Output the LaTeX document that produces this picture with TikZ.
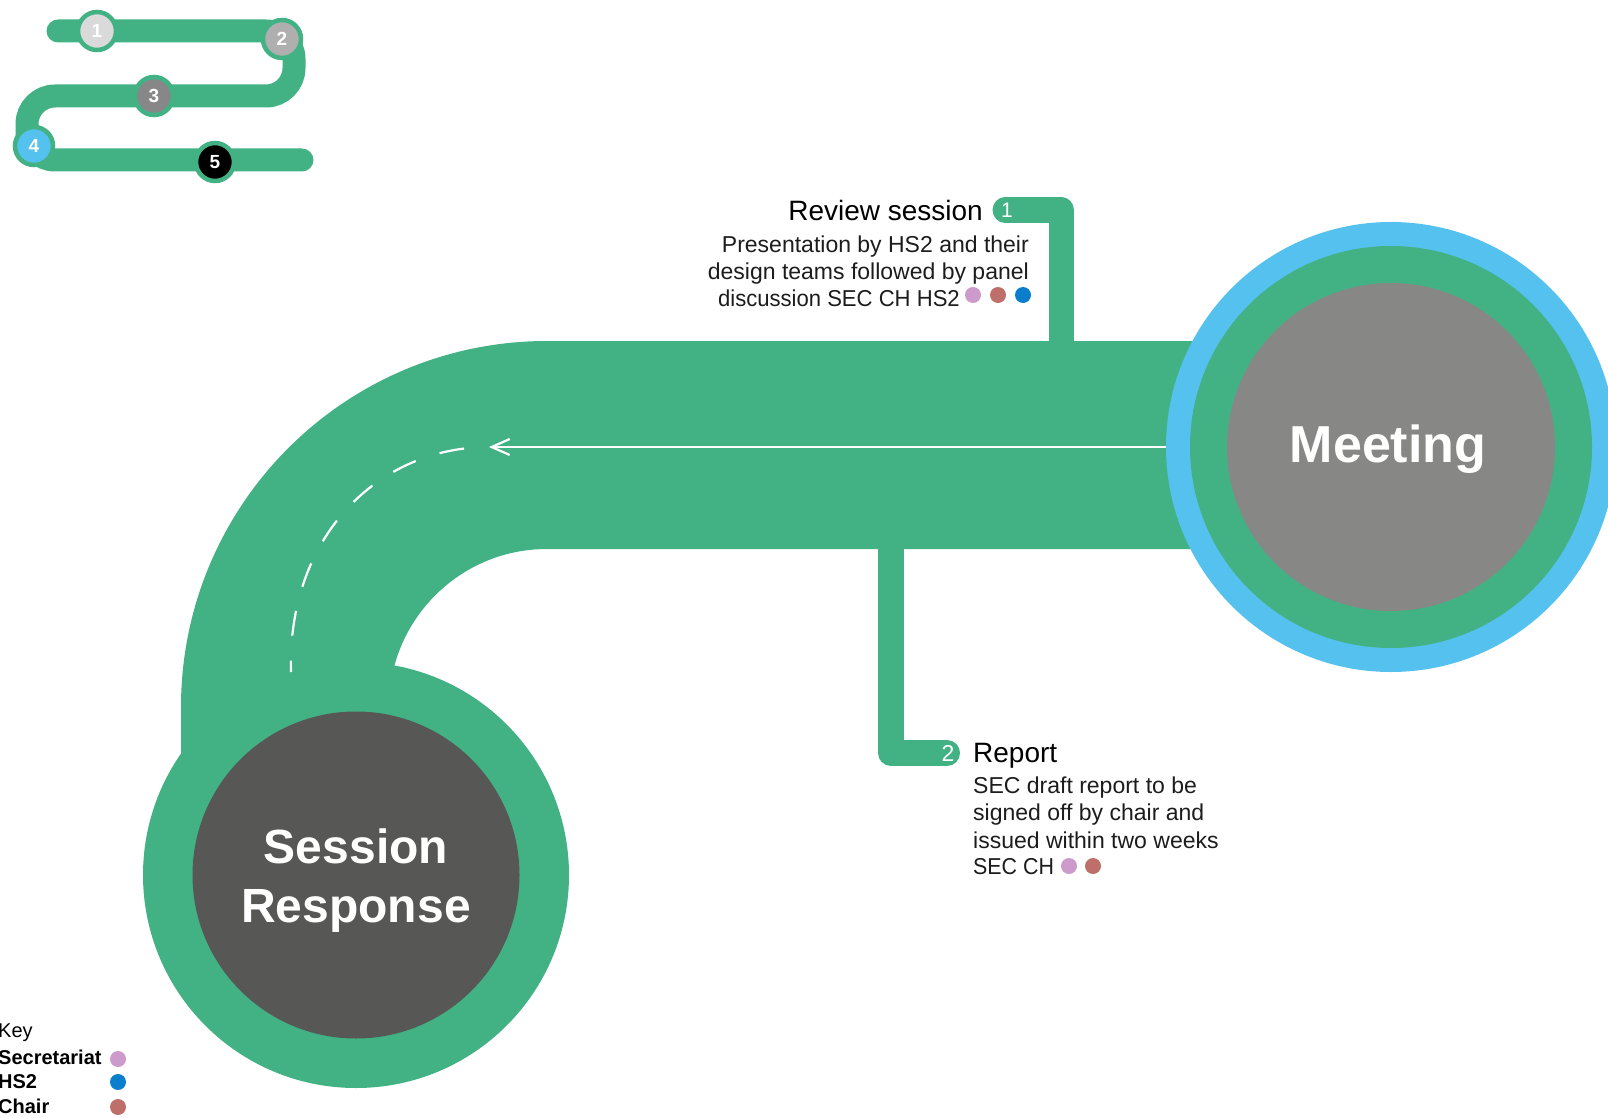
\documentclass[tikz,border=0pt]{standalone}
\usepackage{fontspec}
\setmainfont{Liberation Sans}
\usetikzlibrary{arrows.meta}
\definecolor{grn}{HTML}{42B284}
\definecolor{sky}{HTML}{55C1EE}
\definecolor{mgray}{HTML}{878786}
\definecolor{dgray}{HTML}{575756}
\definecolor{lilac}{HTML}{CC9ACB}
\definecolor{chaircol}{HTML}{BE6F6A}
\definecolor{hsblue}{HTML}{0A7ECC}
\definecolor{ink}{HTML}{1C1C1C}
\definecolor{mini1}{HTML}{DADADA}
\definecolor{mini2}{HTML}{AFAFAF}
\definecolor{mini3}{HTML}{878787}
\begin{document}
\begin{tikzpicture}[x=1pt,y=-1pt,
  disc/.style={circle, inner sep=0pt, outer sep=0pt},
  stopdot/.style={circle, inner sep=0pt, outer sep=0pt, minimum size=38pt, draw=grn, line width=4.5pt, text=white, font=\bfseries\fontsize{19}{19}\selectfont},
  roledot/.style={circle, inner sep=0pt, minimum size=16pt},
  headtxt/.style={inner sep=0pt, text=black, font=\fontsize{28}{28}\selectfont},
  bodytxt/.style={inner sep=0pt, text=ink, font=\fontsize{23}{23}\selectfont},
  keytxt/.style={inner sep=0pt, text=black, anchor=base west, font=\fontsize{20}{20}\selectfont},
  tag/.style={inner sep=0pt, text=white, font=\fontsize{23}{23}\selectfont},
  bigtxt/.style={inner sep=0pt, text=white, font=\bfseries\fontsize{50}{59}\selectfont, align=center},
  leg/.style={draw=grn, line cap=round, line join=round}
]
\useasboundingbox (0,0) rectangle (1608,1118);

% ---------- mini map ----------
\draw[grn, line width=23pt, line cap=round, rounded corners=28pt]
  (58,31) -- (294,31) -- (294,96) -- (27,96) -- (27,160) -- (302,160);
\node[stopdot, fill=mini1] (s1) at (97,31) {1};
\node[stopdot, fill=mini2] (s2) at (282,39) {2};
\node[stopdot, fill=mini3] (s3) at (154,96) {3};
\node[stopdot, fill=sky] (s4) at (34,146) {4};
\node[stopdot, fill=black] (s5) at (215,162) {5};

% ---------- main road ----------
\draw[grn, line width=208pt] (1300,445) -- (547,445)
  arc[start angle=270, end angle=180, radius=262] -- (285,790);

% ---------- connectors to labels ----------
\coordinate (c1a) at (1061.5,352);
\coordinate (c2a) at (891,540);
\node[tag] (n1) at (1005,210) {};
\node[tag] (n2) at (947,753) {};
\draw[leg, line width=25pt] (c1a) |- (n1.center);
\draw[leg, line width=26pt] (c2a) |- (n2.center);
\node[tag, font=\fontsize{21}{21}\selectfont] (t1) at (1007,210) {1};
\node[tag] (t2) at (948,753) {2};

% ---------- circles ----------
\node[disc, fill=grn, minimum size=426pt] (sr) at (356,875) {};
\node[disc, fill=dgray, minimum size=327pt] (srin) at (356,875) {};
\node[bigtxt, font=\bfseries\fontsize{48}{59}\selectfont] (srtext) at (356,881) {Session\\Response};

\node[disc, fill=sky, minimum size=450pt] (mt) at (1391,447) {};
\node[disc, fill=grn, minimum size=402pt] (mtmid) at (1391,447) {};
\node[disc, fill=mgray, minimum size=328pt] (mtin) at (1391,447) {};
\node[bigtxt, anchor=base, font=\bfseries\fontsize{52}{52}\selectfont] (mttext) at (1388,462) {Meeting};

% ---------- direction arrow ----------
\coordinate (tip) at (489,447);
\coordinate (dend) at (291,672);
\draw[white, line width=2.2pt, -{Straight Barb[length=18pt,width=16pt]}] (mt) -- (tip);
\draw[white, line width=2.2pt, dash pattern=on 25pt off 25pt, dash phase=25pt]
  (tip) .. controls (378,447) and (287,537) .. (dend);

% ---------- review session text ----------
\node[headtxt, anchor=base east] (rvh) at (983,220) {Review session};
\node[bodytxt, anchor=base east] (rv1) at (1029,252) {Presentation by HS2 and their};
\node[bodytxt, anchor=base east] (rv2) at (1029,279) {design teams followed by panel};
\node[bodytxt, anchor=base east, xscale=0.96] (rv3) at (960,306) {discussion SEC CH HS2};
\node[roledot, fill=lilac] (rvd1) at (973,295) {};
\node[roledot, fill=chaircol] (rvd2) at (998,295) {};
\node[roledot, fill=hsblue] (rvd3) at (1023,295) {};

% ---------- report text ----------
\node[headtxt, anchor=base west] (rph) at (973,762) {Report};
\node[bodytxt, anchor=base west] (rp1) at (973,793) {SEC draft report to be};
\node[bodytxt, anchor=base west] (rp2) at (973,820) {signed off by chair and};
\node[bodytxt, anchor=base west] (rp3) at (973,848) {issued within two weeks};
\node[bodytxt, anchor=base west, xscale=0.93] (rp4) at (973,874) {SEC CH};
\node[roledot, fill=lilac] (rpd1) at (1069,866) {};
\node[roledot, fill=chaircol] (rpd2) at (1093,866) {};

% ---------- key ----------
\node[keytxt] (k0) at (-2,1037) {Key};
\node[keytxt, font=\bfseries\fontsize{20}{20}\selectfont] (k1) at (-2,1064) {Secretariat};
\node[keytxt, font=\bfseries\fontsize{20}{20}\selectfont] (k2) at (-2,1088) {HS2};
\node[keytxt, font=\bfseries\fontsize{20}{20}\selectfont] (k3) at (-2,1113) {Chair};
\node[roledot, fill=lilac] (kd1) at (118,1059) {};
\node[roledot, fill=hsblue] (kd2) at (118,1082) {};
\node[roledot, fill=chaircol] (kd3) at (118,1107) {};
\end{tikzpicture}
\end{document}
